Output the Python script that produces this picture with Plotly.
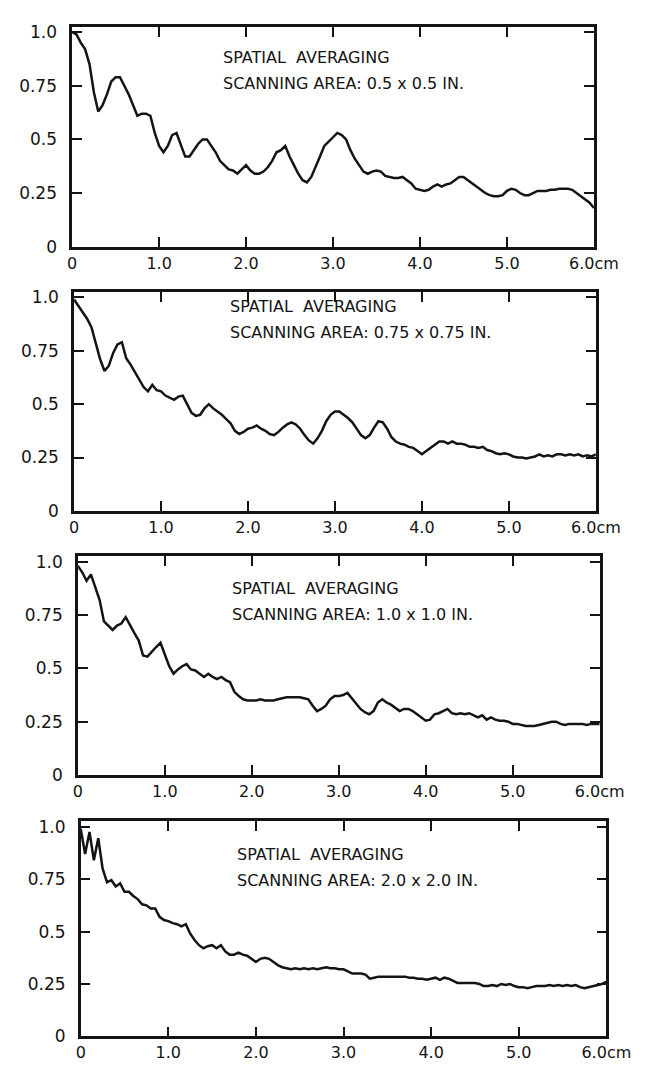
import plotly.graph_objects as go

# distance along the scan (cm), sampled every 0.05 cm
x_cm = [round(i * 0.05, 2) for i in range(121)]

x_tick_vals = [0, 1, 2, 3, 4, 5, 6]
x_tick_text = ["0", "1.0", "2.0", "3.0", "4.0", "5.0", "6.0cm"]
y_tick_vals = [0, 0.25, 0.5, 0.75, 1.0]
y_tick_text = ["0", "0.25", "0.5", "0.75", "1.0"]

title_line = "SPATIAL\u00a0 AVERAGING"
area_labels = [
    "SCANNING AREA: 0.5 x 0.5 IN.",
    "SCANNING AREA: 0.75 x 0.75 IN.",
    "SCANNING AREA: 1.0 x 1.0 IN.",
    "SCANNING AREA: 2.0 x 2.0 IN.",
]

area_05 = [
    1.00, 0.99, 0.95, 0.92, 0.85, 0.72, 0.63, 0.66, 0.71, 0.77,
    0.79, 0.79, 0.75, 0.71, 0.66, 0.61, 0.62, 0.62, 0.61, 0.53,
    0.47, 0.44, 0.47, 0.52, 0.53, 0.47, 0.42, 0.42, 0.45, 0.48,
    0.50, 0.50, 0.47, 0.44, 0.40, 0.38, 0.36, 0.355, 0.34, 0.36,
    0.38, 0.355, 0.34, 0.34, 0.35, 0.37, 0.40, 0.44, 0.45, 0.47,
    0.42, 0.38, 0.34, 0.31, 0.30, 0.325, 0.37, 0.42, 0.47, 0.49,
    0.51, 0.53, 0.52, 0.50, 0.45, 0.41, 0.38, 0.35, 0.34, 0.35,
    0.355, 0.35, 0.33, 0.325, 0.32, 0.32, 0.325, 0.31, 0.295, 0.27,
    0.265, 0.26, 0.265, 0.28, 0.29, 0.28, 0.29, 0.295, 0.31, 0.325,
    0.325, 0.31, 0.295, 0.28, 0.265, 0.25, 0.24, 0.235, 0.235, 0.24,
    0.26, 0.27, 0.265, 0.25, 0.24, 0.24, 0.25, 0.26, 0.26, 0.26,
    0.265, 0.265, 0.27, 0.27, 0.27, 0.265, 0.25, 0.235, 0.22, 0.205,
    0.18,
]

area_075 = [
    0.99, 0.96, 0.93, 0.90, 0.86, 0.78, 0.71, 0.655, 0.68, 0.74,
    0.78, 0.79, 0.715, 0.685, 0.65, 0.62, 0.58, 0.56, 0.59, 0.565,
    0.56, 0.54, 0.53, 0.52, 0.535, 0.54, 0.50, 0.46, 0.445, 0.45,
    0.48, 0.50, 0.48, 0.465, 0.45, 0.43, 0.41, 0.375, 0.36, 0.37,
    0.385, 0.39, 0.40, 0.385, 0.375, 0.36, 0.355, 0.37, 0.39, 0.405,
    0.415, 0.405, 0.385, 0.355, 0.33, 0.315, 0.34, 0.375, 0.42, 0.45,
    0.465, 0.465, 0.45, 0.435, 0.415, 0.385, 0.355, 0.34, 0.355, 0.39,
    0.42, 0.415, 0.385, 0.345, 0.325, 0.315, 0.31, 0.30, 0.295, 0.28,
    0.265, 0.28, 0.295, 0.31, 0.325, 0.325, 0.315, 0.325, 0.315, 0.315,
    0.31, 0.30, 0.30, 0.295, 0.30, 0.285, 0.28, 0.27, 0.265, 0.27,
    0.265, 0.255, 0.25, 0.25, 0.245, 0.25, 0.255, 0.265, 0.255, 0.26,
    0.255, 0.265, 0.265, 0.26, 0.265, 0.26, 0.265, 0.255, 0.26, 0.255,
    0.265,
]

area_10 = [
    0.98, 0.95, 0.91, 0.94, 0.88, 0.82, 0.72, 0.70, 0.68, 0.70,
    0.71, 0.74, 0.70, 0.665, 0.63, 0.56, 0.555, 0.58, 0.60, 0.62,
    0.56, 0.51, 0.475, 0.495, 0.51, 0.52, 0.495, 0.49, 0.475, 0.46,
    0.475, 0.46, 0.45, 0.46, 0.445, 0.435, 0.39, 0.37, 0.355, 0.35,
    0.35, 0.35, 0.355, 0.35, 0.35, 0.35, 0.355, 0.36, 0.365, 0.365,
    0.365, 0.365, 0.36, 0.355, 0.325, 0.30, 0.31, 0.325, 0.355, 0.37,
    0.37, 0.375, 0.385, 0.36, 0.33, 0.31, 0.295, 0.285, 0.30, 0.34,
    0.355, 0.34, 0.33, 0.315, 0.30, 0.31, 0.31, 0.30, 0.285, 0.27,
    0.255, 0.26, 0.285, 0.29, 0.30, 0.31, 0.29, 0.285, 0.29, 0.285,
    0.29, 0.28, 0.27, 0.28, 0.26, 0.27, 0.26, 0.255, 0.255, 0.25,
    0.24, 0.24, 0.235, 0.23, 0.23, 0.23, 0.235, 0.24, 0.245, 0.25,
    0.25, 0.24, 0.235, 0.24, 0.24, 0.24, 0.24, 0.235, 0.24, 0.24,
    0.24,
]

area_20 = [
    0.99, 0.87, 0.975, 0.84, 0.945, 0.80, 0.735, 0.745, 0.715, 0.73,
    0.69, 0.69, 0.67, 0.655, 0.63, 0.625, 0.61, 0.61, 0.57, 0.555,
    0.55, 0.54, 0.535, 0.525, 0.535, 0.49, 0.46, 0.435, 0.42, 0.43,
    0.435, 0.42, 0.435, 0.405, 0.39, 0.39, 0.40, 0.39, 0.385, 0.37,
    0.355, 0.37, 0.375, 0.37, 0.355, 0.34, 0.33, 0.325, 0.32, 0.325,
    0.32, 0.325, 0.32, 0.325, 0.32, 0.325, 0.33, 0.325, 0.325, 0.32,
    0.32, 0.31, 0.30, 0.30, 0.30, 0.295, 0.275, 0.28, 0.285, 0.285,
    0.285, 0.285, 0.285, 0.285, 0.285, 0.28, 0.28, 0.275, 0.275, 0.27,
    0.275, 0.28, 0.27, 0.28, 0.275, 0.265, 0.255, 0.255, 0.255, 0.255,
    0.255, 0.25, 0.24, 0.24, 0.245, 0.24, 0.25, 0.245, 0.25, 0.24,
    0.235, 0.235, 0.23, 0.235, 0.24, 0.24, 0.24, 0.245, 0.24, 0.245,
    0.24, 0.245, 0.24, 0.245, 0.235, 0.23, 0.235, 0.24, 0.245, 0.25,
    0.26,
]

series = [area_05, area_075, area_10, area_20]

W, H = 651, 1067
# frame boxes in pixels: (left, right, top, bottom)
boxes = [(62, 609, 14, 237), (64, 611, 283, 505), (68, 615, 551, 773), (71, 622, 820, 1038)]
# text block anchor (left x, first line center y) in pixels
text_pos = [(218, 45), (225, 298), (228, 584), (233, 854)]
LINE_GAP = 26

FONT = "DejaVu Sans"
INK = "#141414"

fig = go.Figure()
annotations = []
layout = dict(
    width=W, height=H,
    margin=dict(l=0, r=0, t=0, b=0),
    paper_bgcolor="white", plot_bgcolor="white",
    showlegend=False,
    font=dict(family=FONT, color=INK, size=16),
)

for i, (vals, label) in enumerate(zip(series, area_labels)):
    n = "" if i == 0 else str(i + 1)
    l, r, t, b = boxes[i]
    fig.add_trace(go.Scatter(
        x=x_cm, y=vals, mode="lines",
        line=dict(color=INK, width=2.5),
        xaxis="x" + n, yaxis="y" + n, hoverinfo="skip",
    ))
    common = dict(
        showline=True, linecolor=INK, linewidth=2.5, mirror="ticks",
        ticks="inside", ticklen=10, tickwidth=2, tickcolor=INK,
        showgrid=False, zeroline=False,
    )
    layout["xaxis" + n] = dict(
        common, domain=[l / W, r / W], anchor="y" + n,
        range=[0, 6], tickmode="array", tickvals=x_tick_vals, ticktext=x_tick_text,
        ticklabelstandoff=0, tickfont=dict(family=FONT, size=16, color=INK),
    )
    layout["yaxis" + n] = dict(
        common, domain=[1 - b / H, 1 - t / H], anchor="x" + n,
        range=[0, 1.025], tickmode="array", tickvals=y_tick_vals, ticktext=y_tick_text,
        ticklabelstandoff=9, tickfont=dict(family=FONT, size=17, color=INK),
    )
    tx, ty = text_pos[i]
    for k, txt in enumerate([title_line, label]):
        annotations.append(dict(
            xref="paper", yref="paper", x=tx / W, y=1 - (ty + k * LINE_GAP) / H,
            xanchor="left", yanchor="middle", showarrow=False, text=txt,
            font=dict(family=FONT, size=16, color=INK),
        ))

layout["annotations"] = annotations
fig.update_layout(**layout)
fig.write_html("out.html")
